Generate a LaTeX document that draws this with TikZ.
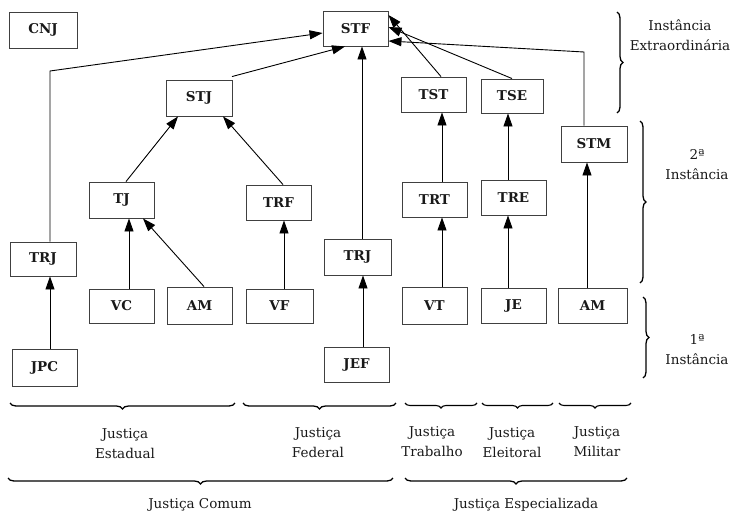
\documentclass[tikz,border=0pt]{standalone}
\usepackage{fontspec}
\setmainfont{DejaVu Serif}
\usetikzlibrary{arrows.meta,decorations.pathreplacing,calc}
\begin{document}
\begin{tikzpicture}[x=1pt,y=-1pt,
  box/.style={draw=black!75,line width=0.9pt,minimum width=65pt,minimum height=35pt,inner sep=0pt,font=\fontsize{13.5}{16}\selectfont\bfseries,text=black!90},
  arr/.style={line width=0.9pt,-{Triangle[length=13pt,width=9pt]}},
  lbl/.style={align=center,font=\fontsize{13.5}{20}\selectfont,text=black!90,inner sep=0pt},
  bbrace/.style={line width=1.3pt,decorate,decoration={brace,amplitude=6pt}},
  sbrace/.style={line width=1.1pt,decorate,decoration={brace,amplitude=5pt}}]
\useasboundingbox (0,0) rectangle (732,514);
% nodes
\node[box,minimum width=68pt,minimum height=36pt] (CNJ) at (43,30) {CNJ};
\node[box] (STF) at (355.5,28.5) {STF};
\node[box,minimum width=66pt,minimum height=36pt] (STJ) at (199,98) {STJ};
\node[box,minimum height=36pt] (TJ) at (121.5,200) {TJ};
\node[box] (TRF) at (278.5,202.5) {TRF};
\node[box,minimum width=66pt,minimum height=34pt] (TRJa) at (43,259) {TRJ};
\node[box,minimum width=67pt,minimum height=36pt] (TRJb) at (357.5,257) {TRJ};
\node[box,minimum height=34pt] (VC) at (121.5,306) {VC};
\node[box,minimum height=37pt] (AMa) at (199.5,305.5) {AM};
\node[box,minimum width=67pt,minimum height=34pt] (VF) at (279.5,306) {VF};
\node[box,minimum height=37pt] (JPC) at (44.5,367.5) {JPC};
\node[box] (JEF) at (356.5,364.5) {JEF};
\node[box] (TST) at (433.5,94.5) {TST};
\node[box,minimum width=62pt,minimum height=34pt] (TSE) at (512,96) {TSE};
\node[box,minimum width=66pt,minimum height=36pt] (STM) at (594,144) {STM};
\node[box] (TRT) at (434.5,199.5) {TRT};
\node[box] (TRE) at (513.5,197.5) {TRE};
\node[box,minimum height=37pt] (VT) at (434.5,305.5) {VT};
\node[box] (JE) at (513.5,305.5) {JE};
\node[box,minimum width=69pt] (AMb) at (592.5,305.5) {AM};
% bend points
\coordinate (k1) at (50,71);
\coordinate (k2) at (584,52);
% connectors
\draw[arr] ([xshift=5.5pt]JPC.north) -- ([xshift=7pt]TRJa.south);
\draw[arr] ([xshift=7pt]TRJa.north) -- (k1) -- ([yshift=-4.5pt]STF.west);
\draw[arr] ([xshift=33pt,yshift=3pt]STJ.north) -- ([xshift=-10.5pt]STF.south);
\draw[arr] ([xshift=4.5pt]TJ.north) -- ([xshift=-21pt]STJ.south);
\draw[arr] ([xshift=4.5pt]TRF.north) -- ([xshift=24pt]STJ.south);
\draw[arr] ([xshift=7.5pt]VC.north) -- ([xshift=7.5pt]TJ.south);
\draw[arr] ([xshift=4.5pt]AMa.north) -- ([xshift=21.5pt]TJ.south);
\draw[arr] ([xshift=4.5pt]VF.north) -- ([xshift=5.5pt]TRF.south);
\draw[arr] ([xshift=6.5pt]JEF.north) -- ([xshift=5.5pt]TRJb.south);
\draw[arr] ([xshift=4.5pt]TRJb.north) -- ([xshift=6.5pt]STF.south);
\draw[arr] ([xshift=7.5pt]VT.north) -- ([xshift=7.5pt]TRT.south);
\draw[arr] ([xshift=7.5pt]TRT.north) -- ([xshift=8.5pt]TST.south);
\draw[arr] ([xshift=-5.5pt]JE.north) -- ([xshift=-5.5pt]TRE.south);
\draw[arr] ([xshift=-5.5pt]TRE.north) -- ([xshift=-4pt]TSE.south);
\draw[arr] ([xshift=-5.5pt]AMb.north) -- ([xshift=-7pt]STM.south);
\draw[arr] ([xshift=7.5pt]TST.north) -- ([yshift=13.5pt]STF.east);
\draw[arr] (TSE.north) -- ([yshift=1.5pt]STF.east);
\draw[arr] ([xshift=-10pt]STM.north) -- (k2) -- ([yshift=-12.5pt]STF.east);
% braces right
\draw[bbrace] (617,12) -- (617,113);
\draw[bbrace] (640,121) -- (640,283);
\draw[bbrace] (643,297) -- (643,378);
% bottom braces
\draw[bbrace] (235,403) -- (10,403);
\draw[bbrace] (396,403) -- (243,403);
\draw[sbrace] (477,403) -- (405,403);
\draw[sbrace] (553,403) -- (482,403);
\draw[sbrace] (631,403) -- (559,403);
\draw[bbrace] (393,478) -- (8,478);
\draw[bbrace] (627,478) -- (405,478);
% labels
\node[lbl] (Lext) at (680,35) {Instância\\Extraordinária};
\node[lbl] (L2) at (697,165) {2ª\\Instância};
\node[lbl] (L1) at (697,349.5) {1ª\\Instância};
\node[lbl] (Lest) at (125,443.5) {Justiça\\Estadual};
\node[lbl] (Lfed) at (318,442.5) {Justiça\\Federal};
\node[lbl] (Ltra) at (432,442) {Justiça\\Trabalho};
\node[lbl] (Lele) at (512,443) {Justiça\\Eleitoral};
\node[lbl] (Lmil) at (597,442) {Justiça\\Militar};
\node[lbl] (Lcom) at (200,505) {Justiça Comum};
\node[lbl] (Lesp) at (526,505) {Justiça Especializada};
\end{tikzpicture}
\end{document}
